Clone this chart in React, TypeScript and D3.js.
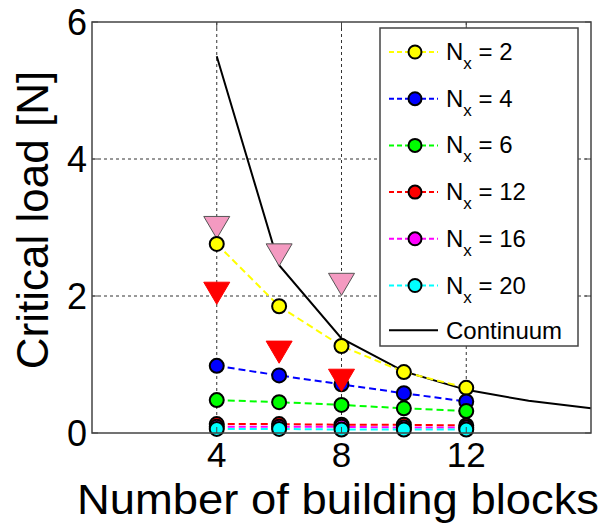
import React from 'react';
import * as d3 from 'd3';

// building block counts
const blocks = [4, 6, 8, 10, 12];

// discrete model, one series per Nx
const nx2 = [2.76, 1.85, 1.27, 0.89, 0.66];
const nx4 = [0.98, 0.84, 0.71, 0.58, 0.46];
const nx6 = [0.48, 0.45, 0.41, 0.36, 0.32];
const nx12 = [0.13, 0.13, 0.12, 0.12, 0.11];
const nx16 = [0.09, 0.09, 0.09, 0.08, 0.08];
const nx20 = [0.06, 0.06, 0.05, 0.05, 0.05];

// continuum solution
const contX = [4, 6, 8, 10, 12, 14, 16];
const contY = [5.5, 2.45, 1.38, 0.9, 0.63, 0.47, 0.36];

// experiments (triangles)
const triX = [4, 6, 8];
const pinkY = [3.0, 2.6, 2.17];
const redY = [2.04, 1.18, 0.77];

const xTicks = [4, 8, 12];
const yTicks = [0, 2, 4, 6];

const series = [
  { n: '2', color: '#ffff00', values: nx2 },
  { n: '4', color: '#0000ff', values: nx4 },
  { n: '6', color: '#00ff00', values: nx6 },
  { n: '12', color: '#ff0000', values: nx12 },
  { n: '16', color: '#ff00ff', values: nx16 },
  { n: '20', color: '#00ffff', values: nx20 },
];

const font = '"Liberation Sans", Arial, sans-serif';

export default function App() {
  const left = 92, right = 591, top = 22, bottom = 433;
  const x = d3.scaleLinear().domain([0, 16]).range([left, right]);
  const y = d3.scaleLinear().domain([0, 6]).range([bottom, top]);

  const line = d3.line<[number, number]>().x(d => x(d[0])).y(d => y(d[1]));
  const tri = (cx: number, cy: number, s = 13) =>
    `M${cx - s},${cy - s * 0.85}L${cx + s},${cy - s * 0.85}L${cx},${cy + s * 0.85}Z`;

  const lg = { x: 380, y: 28, w: 198, h: 318, row: 46.7 };

  return (
    <svg width={601} height={525} style={{ position: 'absolute', left: 0, top: 0, background: '#fff' }}>
      <rect x={0} y={0} width={601} height={525} fill="#fff" />
      {/* grid */}
      {xTicks.map(t => (
        <line key={'gx' + t} x1={x(t)} x2={x(t)} y1={top} y2={bottom} stroke="#333" strokeWidth={1} strokeDasharray="3,3" />
      ))}
      {[2, 4].map(t => (
        <line key={'gy' + t} x1={left} x2={right} y1={y(t)} y2={y(t)} stroke="#333" strokeWidth={1} strokeDasharray="3,3" />
      ))}

      {/* continuum */}
      <path d={line(contX.map((v, i) => [v, contY[i]]) as any) || ''} fill="none" stroke="#000" strokeWidth={2} />

      {/* pink triangles */}
      {triX.map((v, i) => (
        <path key={'p' + i} d={tri(x(v), y(pinkY[i]))} fill="#f49ac1" stroke="#555" strokeWidth={1} />
      ))}

      {/* discrete series */}
      {series.map(s => (
        <path key={s.n} d={line(blocks.map((b, i) => [b, s.values[i]]) as any) || ''} fill="none" stroke={s.color} strokeWidth={2} strokeDasharray="7,4" />
      ))}
      {series.map(s => (
        <g key={'m' + s.n}>
          {blocks.map((b, i) => (
            <circle key={b} cx={x(b)} cy={y(s.values[i])} r={7} fill={s.color} stroke="#000" strokeWidth={2} />
          ))}
        </g>
      ))}

      {/* red triangles */}
      {triX.map((v, i) => (
        <path key={'r' + i} d={tri(x(v), y(redY[i]))} fill="#ff0000" stroke="#ff0000" strokeWidth={1} />
      ))}

      {/* axes box */}
      <rect x={left} y={top} width={right - left} height={bottom - top} fill="none" stroke="#444" strokeWidth={1.5} />
      {xTicks.map(t => (
        <g key={'xt' + t}>
          <line x1={x(t)} x2={x(t)} y1={bottom} y2={bottom - 6} stroke="#444" />
          <line x1={x(t)} x2={x(t)} y1={top} y2={top + 6} stroke="#444" />
          <text x={x(t)} y={467} textAnchor="middle" fontFamily={font} fontSize={35}>{t}</text>
        </g>
      ))}
      {yTicks.map(t => (
        <g key={'yt' + t}>
          <line x1={left} x2={left + 6} y1={y(t)} y2={y(t)} stroke="#444" />
          <line x1={right} x2={right - 6} y1={y(t)} y2={y(t)} stroke="#444" />
          <text x={87} y={y(t) + 13} textAnchor="end" fontFamily={font} fontSize={36}>{t}</text>
        </g>
      ))}
      <text x={338} y={514} textAnchor="middle" fontFamily={font} fontSize={42} textLength={522} lengthAdjust="spacingAndGlyphs">Number of building blocks</text>
      <text transform={`translate(48,220) rotate(-90)`} textAnchor="middle" fontFamily={font} fontSize={44}>Critical load [N]</text>

      {/* legend */}
      <rect x={lg.x} y={lg.y} width={lg.w} height={lg.h} fill="#fff" stroke="#444" strokeWidth={1.5} />
      {series.map((s, i) => {
        const cy = lg.y + 24 + i * lg.row;
        return (
          <g key={'l' + s.n}>
            <line x1={lg.x + 9} x2={lg.x + 58} y1={cy} y2={cy} stroke={s.color} strokeWidth={2} strokeDasharray="5,3" />
            <circle cx={lg.x + 35} cy={cy} r={6.5} fill={s.color} stroke="#000" strokeWidth={2} />
            <text x={lg.x + 66} y={cy + 8} fontFamily={font} fontSize={24}>
              N<tspan fontSize={17} dy={9}>x</tspan><tspan dy={-9}> = {s.n}</tspan>
            </text>
          </g>
        );
      })}
      {(() => {
        const cy = lg.y + 24 + 6 * lg.row;
        return (
          <g>
            <line x1={lg.x + 9} x2={lg.x + 58} y1={cy - 2} y2={cy - 2} stroke="#000" strokeWidth={2} />
            <text x={lg.x + 66} y={cy + 7} fontFamily={font} fontSize={24}>Continuum</text>
          </g>
        );
      })()}
    </svg>
  );
}
